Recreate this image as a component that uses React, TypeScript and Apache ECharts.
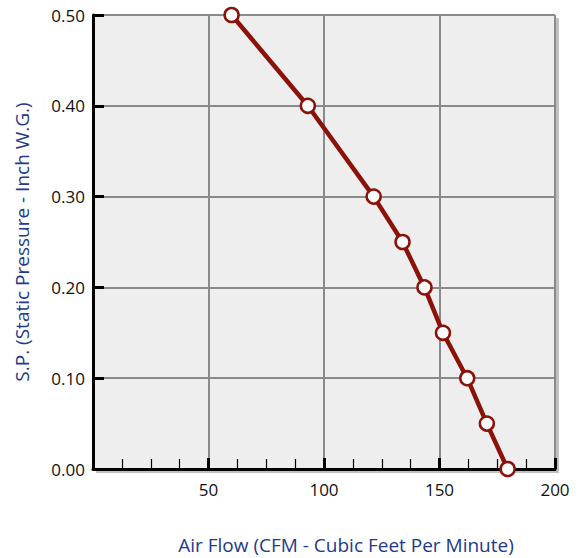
import React, { useEffect, useRef } from "react";
import * as echarts from "echarts";

const airFlow = [60, 93, 121.5, 134, 143.5, 151.5, 162, 170.5, 179.5];
const staticPressure = [0.5, 0.4, 0.3, 0.25, 0.2, 0.15, 0.1, 0.05, 0.0];
const xTitle = "Air Flow (CFM - Cubic Feet Per Minute)";
const yTitle = "S.P. (Static Pressure - Inch W.G.)";

const FONT = "'Open Sans', 'Noto Sans', sans-serif";

export default function App() {
  const ref = useRef<HTMLDivElement>(null);
  useEffect(() => {
    if (!ref.current) return;
    const chart = echarts.init(ref.current, undefined, { renderer: "svg" });
    const gl = 93, gt = 15, gw = 462, gh = 454;
    chart.setOption({
      animation: false,
      graphic: [
        {
          type: "rect",
          z: -10,
          silent: true,
          shape: { x: gl + 3, y: gt + 3, width: gw + 1, height: gh + 1 },
          style: { fill: "#c0c0c0" },
        },
      ],
      grid: {
        left: gl,
        top: gt,
        width: gw,
        height: gh,
        show: true,
        backgroundColor: "#eeeeee",
        borderWidth: 0,
        outerBoundsMode: "none",
        containLabel: false,
      },
      xAxis: {
        type: "value",
        min: 0,
        max: 200,
        interval: 50,
        name: xTitle,
        nameLocation: "middle",
        nameGap: 66,
        nameTextStyle: {
          color: "#23398a",
          fontSize: 19,
          fontFamily: FONT,
          padding: [0, 0, 0, 44],
        },
        axisLine: { show: true, onZero: false, lineStyle: { color: "#000", width: 3 } },
        axisTick: { show: true, inside: true, length: 11, lineStyle: { color: "#000", width: 3 } },
        minorTick: { show: true, splitNumber: 4, length: 10, lineStyle: { color: "#000", width: 1.2 } },
        axisLabel: {
          color: "#111",
          fontSize: 17,
          fontFamily: FONT,
          margin: 12,
          formatter: (v: number) => (v === 0 ? "" : String(v)),
        },
        splitLine: { show: true, lineStyle: { color: "#8a8a8a", width: 2 } },
      },
      yAxis: {
        type: "value",
        min: 0,
        max: 0.5,
        interval: 0.1,
        name: yTitle,
        nameLocation: "middle",
        nameGap: 62,
        nameTextStyle: { color: "#23398a", fontSize: 19, fontFamily: FONT },
        axisLine: { show: true, onZero: false, lineStyle: { color: "#000", width: 3 } },
        axisTick: { show: true, inside: true, length: 11, lineStyle: { color: "#000", width: 3 } },
        axisLabel: {
          color: "#111",
          fontSize: 17,
          fontFamily: FONT,
          margin: 8,
          formatter: (v: number) => v.toFixed(2),
        },
        splitLine: { show: true, lineStyle: { color: "#8a8a8a", width: 2 } },
      },
      series: [
        {
          type: "line",
          data: airFlow.map((x, i) => [x, staticPressure[i]]),
          lineStyle: { color: "#8b1209", width: 4.5 },
          symbol: "circle",
          symbolSize: 14,
          itemStyle: { color: "#ffffff", borderColor: "#8b1209", borderWidth: 2.5 },
          clip: false,
          z: 5,
        },
      ],
    });
    return () => chart.dispose();
  }, []);
  return (
    <div
      ref={ref}
      style={{ position: "absolute", left: 0, top: 0, width: 585, height: 558 }}
    />
  );
}
